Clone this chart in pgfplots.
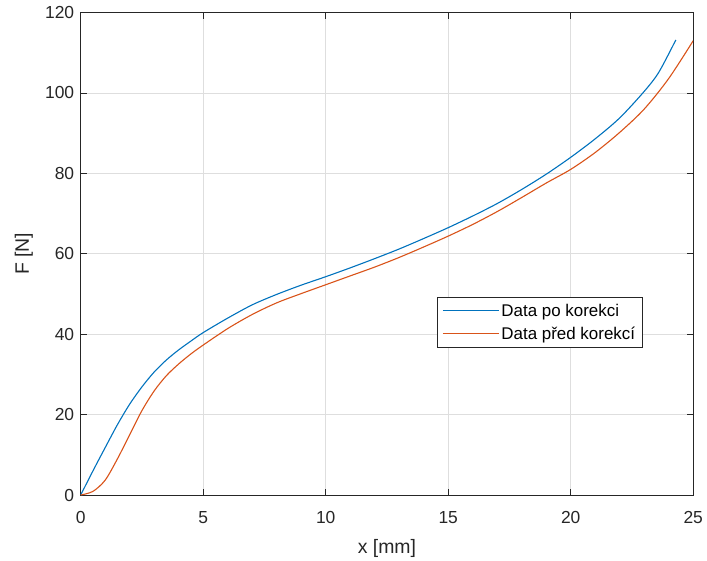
\documentclass[border=0pt]{standalone}
\usepackage{pgfplots}
\pgfplotsset{compat=1.18}
\usepackage{fontspec}
\setmainfont{Liberation Sans}
\usetikzlibrary{calc}
\definecolor{mblue}{rgb}{0,0.447,0.741}
\definecolor{morange}{rgb}{0.85,0.325,0.098}
\definecolor{mtext}{rgb}{0.15,0.15,0.15}
\begin{document}
\begin{tikzpicture}
\begin{axis}[
  scale only axis,
  width=612.5bp, height=482.4bp,
  xmin=0, xmax=25, ymin=0, ymax=120,
  xtick={0,5,...,25}, ytick={0,20,...,120},
  grid=major,
  major grid style={black!13, line width=0.7pt},
  tick align=inside,
  major tick length=6bp,
  tick style={mtext, line width=0.7pt},
  axis line style={mtext, line width=0.7pt},
  /pgf/number format/assume math mode=true,
  ticklabel style={font=\fontsize{17.5}{20}\selectfont, text=mtext},
  xticklabel style={anchor=base, yshift=-28.5bp},
  yticklabel style={anchor=east, xshift=-3bp},
  label style={font=\fontsize{19.5}{22}\selectfont, text=mtext},
  xlabel={x [mm]}, ylabel={F [N]},
  xlabel style={at={(axis description cs:0.5,-0.1223)}, anchor=base},
  ylabel style={at={(axis description cs:-0.093,0.5)}, anchor=center},
  legend style={at={(0.5817,0.4104)}, anchor=north west, font=\fontsize{17}{20}\selectfont, draw=mtext, line width=0.7pt, inner xsep=5bp, inner ysep=4.5bp, row sep=5bp, cells={anchor=west, text=black}},
  legend cell align=left,
  legend image code/.code={\draw[#1, line width=1.1bp] (0bp,0bp) -- (56bp,0bp);},
]
\addplot[mblue, line width=1.1bp, smooth] coordinates {
(0,0) (0.5,6) (1,11.8) (1.5,17.5) (2,22.6) (2.5,26.9) (3,30.6) (3.5,33.6) (4,36.1) (4.5,38.3) (5,40.4) (6,44) (7,47.3) (8,49.9) (9,52.2) (10,54.3) (11,56.5) (12,58.8) (13,61.2) (14,63.8) (15,66.5) (16,69.4) (17,72.5) (18,76) (19,79.8) (20,84) (21,88.6) (22,93.8) (23,100.4) (23.6,105.2) (24.29,113.2)
};
\addlegendentry{Data po korekci}
\addplot[morange, line width=1.1bp, smooth] coordinates {
(0,0) (0.5,0.9) (1,3.7) (1.5,9.0) (2,15) (2.5,21) (3,25.9) (3.5,29.7) (4,32.6) (4.5,35.1) (5,37.3) (6,41.4) (7,44.9) (8,47.8) (9,50.1) (10,52.3) (11,54.5) (12,56.7) (13,59.1) (14,61.7) (15,64.4) (16,67.3) (17,70.5) (18,74) (19,77.6) (20,81) (21,85.2) (22,90.2) (23,96) (24,103.6) (25,113)
};
\addlegendentry{Data před korekcí}
\end{axis}
\pgfresetboundingbox
\path[use as bounding box] ($(current axis.south west)+(-80.7bp,-66bp)$) rectangle ($(current axis.north east)+(13.8bp,12.6bp)$);
\end{tikzpicture}
\end{document}
